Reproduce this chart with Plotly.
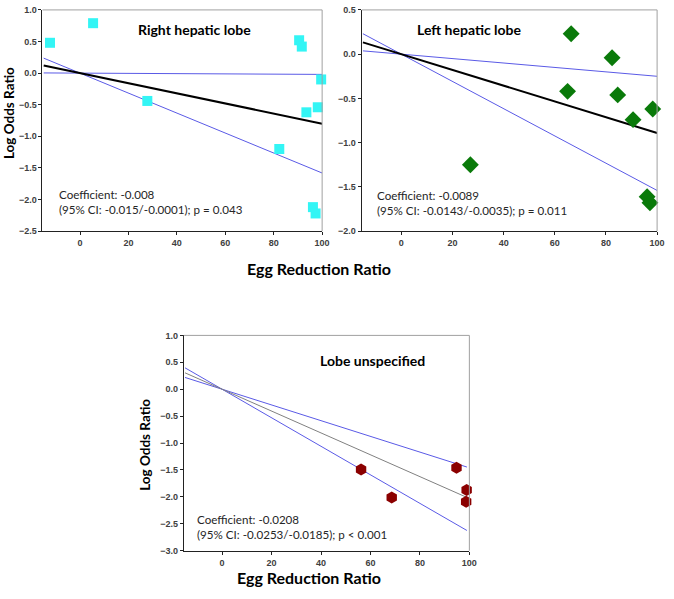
import plotly.graph_objects as go

# ---- data ----
right_x = [-12.4, 5.4, 27.8, 82.3, 90.5, 91.6, 93.5, 98.2, 99.6, 96.2, 97.3]
right_y = [0.48, 0.79, -0.44, -1.20, 0.52, 0.42, -0.62, -0.54, -0.10, -2.12, -2.22]

left_x = [27.0, 65.0, 66.4, 82.4, 84.6, 90.6, 96.1, 97.2, 98.3]
left_y = [-1.25, -0.42, 0.23, -0.04, -0.46, -0.74, -1.61, -1.68, -0.62]

unspec_x = [56.2, 68.6, 94.8, 98.9, 98.7]
unspec_y = [-1.49, -2.01, -1.46, -1.87, -2.09]

# fitted slope and CI slopes (lines through origin)
right_slopes = {"fit": -0.008, "lo": -0.0158, "hi": -0.0002}
left_slopes = {"fit": -0.0089, "lo": -0.0154, "hi": -0.0025}
unspec_slopes = {"fit": -0.0203, "lo": -0.0265, "hi": -0.0146}

line_x_top = [-15, 100]
line_x_bottom = [-15, 99]

right_text = "Coefficient: -0.008<br>(95% CI: -0.015/-0.0001); p = 0.043"
left_text = "Coefficient: -0.0089<br>(95% CI: -0.0143/-0.0035); p = 0.011"
unspec_text = "Coefficient: -0.0208<br>(95% CI: -0.0253/-0.0185); p < 0.001"

W, H = 674, 599


def dx(px):
    return px / W


def dy(py):
    return 1 - py / H


panels = [
    dict(name="Right hepatic lobe", x=right_x, y=right_y, slopes=right_slopes,
         lx=line_x_top, xd=(43, 326), yd=(5, 230), yr=[-2.5, 1.0],
         marker=dict(symbol="square", color="#33F5F5", size=10),
         fitcolor="black", fitwidth=2, text=right_text,
         title_xy=(197, 25), text_xy=(58, 200)),
    dict(name="Left hepatic lobe", x=left_x, y=left_y, slopes=left_slopes,
         lx=line_x_top, xd=(366, 665), yd=(5, 230), yr=[-2.0, 0.5],
         marker=dict(symbol="diamond", color="#0A7A0A", size=13),
         fitcolor="black", fitwidth=2, text=left_text,
         title_xy=(475, 25), text_xy=(379, 201)),
    dict(name="Lobe unspecified", x=unspec_x, y=unspec_y, slopes=unspec_slopes,
         lx=line_x_bottom, xd=(186, 475), yd=(336, 555), yr=[-3.0, 1.0],
         marker=dict(symbol="hexagon", color="#8B0000", size=12),
         fitcolor="#808080", fitwidth=1, text=unspec_text,
         title_xy=(377, 362), text_xy=(197, 531)),
]

fig = go.Figure()
tickfont = dict(family="Liberation Sans", size=9, color="#404040", weight="bold")

for i, p in enumerate(panels, start=1):
    xa = "x" if i == 1 else f"x{i}"
    ya = "y" if i == 1 else f"y{i}"
    for key, color, width in [("hi", "#5A5AE6", 1), ("lo", "#5A5AE6", 1),
                              ("fit", p["fitcolor"], p["fitwidth"])]:
        s = p["slopes"][key]
        fig.add_trace(go.Scatter(x=p["lx"], y=[s * v for v in p["lx"]], mode="lines",
                                 line=dict(color=color, width=width),
                                 xaxis=xa, yaxis=ya, showlegend=False, hoverinfo="skip"))
    fig.add_trace(go.Scatter(x=p["x"], y=p["y"], mode="markers", marker=p["marker"],
                             xaxis=xa, yaxis=ya, showlegend=False, cliponaxis=False))
    xkey = "xaxis" if i == 1 else f"xaxis{i}"
    ykey = "yaxis" if i == 1 else f"yaxis{i}"
    fig.update_layout(**{
        xkey: dict(domain=[dx(p["xd"][0]), dx(p["xd"][1])], anchor=ya, range=[-15.5, 100],
                   tickvals=[0, 20, 40, 60, 80, 100], showgrid=False, zeroline=False,
                   showline=True, linecolor="#222222", linewidth=1, ticks="outside",
                   ticklen=3, tickcolor="#222222", tickfont=tickfont),
        ykey: dict(domain=[dy(p["yd"][1]), dy(p["yd"][0])], anchor=xa, range=p["yr"],
                   dtick=0.5, tickformat=".1f", showgrid=False, zeroline=False,
                   showline=True, linecolor="#222222", linewidth=1, ticks="outside",
                   ticklen=3, tickcolor="#222222", tickfont=tickfont),
    })
    # gray top and right frame lines
    fig.add_shape(type="line", xref=f"{xa} domain", yref=f"{ya} domain",
                  x0=0, x1=1, y0=1, y1=1, line=dict(color="#A0A0A0", width=1))
    fig.add_shape(type="line", xref=f"{xa} domain", yref=f"{ya} domain",
                  x0=1, x1=1, y0=0, y1=1, line=dict(color="#A0A0A0", width=1))
    fig.add_annotation(x=dx(p["title_xy"][0]), y=dy(p["title_xy"][1]), xref="paper", yref="paper",
                       text=f"<b>{p['name']}</b>", showarrow=False,
                       xanchor="center", yanchor="middle",
                       font=dict(family="Lato", size=14, color="black"))
    fig.add_annotation(x=dx(p["text_xy"][0]), y=dy(p["text_xy"][1]), xref="paper", yref="paper",
                       text=p["text"], showarrow=False, xanchor="left", yanchor="middle",
                       align="left", font=dict(family="Lato", size=11.6, color="#262626"))

# axis titles
label_font = dict(family="Lato", size=13.5, color="black")
for (px, py) in [(9, 110), (146, 447)]:
    fig.add_annotation(x=dx(px), y=dy(py), xref="paper", yref="paper", text="<b>Log Odds Ratio</b>",
                       textangle=-90, showarrow=False, xanchor="center", yanchor="middle",
                       font=label_font)
xl_font = dict(family="Lato", size=16, color="black")
for (px, py) in [(323, 268), (313, 582)]:
    fig.add_annotation(x=dx(px), y=dy(py), xref="paper", yref="paper", text="<b>Egg Reduction Ratio</b>",
                       showarrow=False, xanchor="center", yanchor="middle", font=xl_font)

fig.update_layout(width=W, height=H, margin=dict(l=0, r=0, t=0, b=0),
                  paper_bgcolor="white", plot_bgcolor="white")

fig.write_html("out.html", config={"displayModeBar": False},
               post_script="document.body.style.margin='0';document.body.style.overflow='hidden';")
